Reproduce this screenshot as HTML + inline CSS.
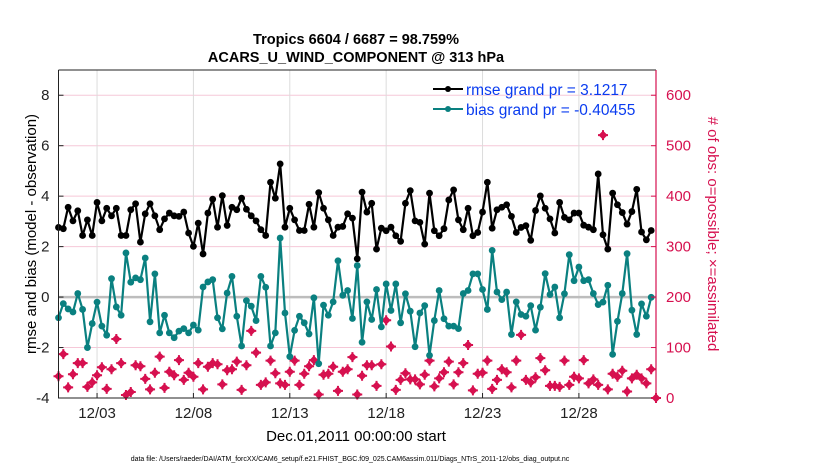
<!DOCTYPE html>
<html><head><meta charset="utf-8"><style>
body{margin:0;background:#fff;}
svg{display:block;font-family:"Liberation Sans",sans-serif;}
</style></head><body>
<svg id="chart" width="830" height="470" viewBox="0 0 830 470" xmlns="http://www.w3.org/2000/svg">
<rect x="0" y="0" width="830" height="470" fill="#fff"/>
<text x="356" y="44" text-anchor="middle" font-size="14.5" font-weight="bold">Tropics 6604 / 6687 = 98.759%</text>
<text x="356" y="62" text-anchor="middle" font-size="14.5" font-weight="bold">ACARS_U_WIND_COMPONENT @ 313 hPa</text>
<g id="grid"></g>
<g id="marks"></g>
<g id="axes"></g>
<text transform="translate(36,234) rotate(-90)" text-anchor="middle" font-size="15">rmse and bias (model - observation)</text>
<text transform="translate(708,234) rotate(90)" text-anchor="middle" font-size="15" fill="#d6104f">#  of obs: o=possible; ×=assimilated</text>
<text x="356" y="441" text-anchor="middle" font-size="15">Dec.01,2011 00:00:00 start</text>
<text x="350" y="461" text-anchor="middle" font-size="7">data file: /Users/raeder/DAI/ATM_forcXX/CAM6_setup/f.e21.FHIST_BGC.f09_025.CAM6assim.011/Diags_NTrS_2011-12/obs_diag_output.nc</text>
<g>
 <line x1="433" y1="89" x2="463" y2="89" stroke="#000" stroke-width="2"/><circle cx="448" cy="89" r="3" fill="#000"/>
 <text x="466" y="95" font-size="15.5" fill="#0a3cf0">rmse grand pr = 3.1217</text>
 <line x1="433" y1="109" x2="463" y2="109" stroke="#0a8080" stroke-width="2"/><circle cx="448" cy="109" r="3" fill="#0a8080"/>
 <text x="466" y="115" font-size="15.5" fill="#0a3cf0">bias grand pr = -0.40455</text>
</g>
</svg>
<script>
const rmse=[2.76,2.71,3.56,3.02,3.42,2.44,3.06,2.44,3.75,3.02,3.52,3.22,3.52,2.44,2.44,3.46,3.70,2.18,3.30,3.70,3.22,2.67,3.10,3.33,3.22,3.20,3.37,2.54,2.01,2.93,1.71,3.33,3.88,
2.77,4.02,2.84,3.56,3.46,3.92,3.48,3.22,3.02,2.67,2.44,4.55,3.92,5.28,2.77,3.52,3.06,2.64,2.64,3.68,2.77,4.14,3.52,3.06,2.44,2.77,2.80,3.30,3.13,1.52,4.16,3.37,3.72,
1.90,2.73,2.63,2.77,2.43,2.21,3.72,4.22,3.02,2.96,2.10,4.12,2.63,2.43,2.71,3.85,4.25,3.06,2.67,3.52,2.43,2.56,3.37,4.55,2.73,3.46,3.56,3.66,3.20,2.56,2.76,2.83,2.25,
3.43,4.01,3.52,3.10,2.54,3.75,3.16,3.06,3.33,3.33,2.85,2.77,2.67,4.88,2.47,1.90,4.12,3.66,3.35,2.89,3.39,4.27,2.58,2.27,2.64];
const bias=[-0.82,-0.26,-0.47,-0.59,0.14,-0.49,-2.0,-1.05,-0.2,-1.15,-1.51,0.73,-0.39,-0.72,1.75,0.59,0.76,0.69,1.55,-0.98,0.92,-1.42,-0.72,-1.42,-1.61,-1.35,-1.25,-1.42,-1.11,-1.31,0.4,0.6,0.69,
-0.82,-1.26,0.16,0.82,-0.76,-1.94,-0.14,-0.36,-0.93,0.82,0.39,-1.94,-1.42,2.34,-0.63,-2.36,-1.32,-0.76,-1.02,-1.46,-0.03,-2.64,-0.32,-0.72,-0.19,1.44,0.07,0.26,-0.85,1.25,-1.79,-0.19,-0.89,
0.30,-1.18,0.52,-0.53,0.52,-1.02,0.13,-0.56,-1.97,-0.63,-0.34,-2.31,-0.93,0.26,-0.86,-1.15,-1.15,-1.25,0.14,0.26,0.92,0.92,0.30,-0.49,1.85,0.20,-0.10,0.20,-1.48,-0.19,-0.69,-0.76,-0.34,
-1.31,-0.40,0.93,0.10,0.40,-0.82,0.13,1.68,0.65,1.19,0.65,0.69,0.14,-0.30,-0.20,0.47,-2.27,-0.96,0.14,1.72,-0.52,-1.48,-0.27,-0.76,-0.01];
const nobs=[43,87,21,47,69,69,22,31,45,61,18,57,117,69,6,12,65,63,38,17,50,82,20,52,45,75,36,50,42,69,17,62,69,
67,27,55,57,72,16,65,133,90,26,31,74,49,29,26,52,74,26,48,63,75,7,46,48,62,14,52,57,81,7,44,65,65,
24,67,154,102,16,36,49,37,37,27,46,74,23,39,51,72,27,51,69,105,15,48,50,74,18,36,57,51,21,74,125,36,31,
41,79,55,24,24,22,74,26,42,39,75,29,37,26,521,17,48,42,54,13,39,46,39,29,57,0];
const yTicks=[-4,-2,0,2,4,6,8];
const y2Ticks=[0,100,200,300,400,500,600];
const xTickDays=[2,7,12,17,22,27];
const xTickLabels=["12/03","12/08","12/13","12/18","12/23","12/28"];

const NS="http://www.w3.org/2000/svg";
const L=58.5,R=656,T=70,B=398;
const xDays=d=>L+(d/31)*(R-L);
const xi=i=>xDays(i/4);
const y=v=>B-(v+4)/13*(B-T);
const y2=n=>B-n/650*(B-T);
function mk(tag,attrs,parent){const e=document.createElementNS(NS,tag);for(const k in attrs)e.setAttribute(k,attrs[k]);parent.appendChild(e);return e;}
const grid=document.getElementById('grid'),marks=document.getElementById('marks'),axes=document.getElementById('axes');

y2Ticks.forEach(n=>{if(n===0)return;const g=mk('line',{x1:L,x2:R,y1:y2(n),y2:y2(n),stroke:'#f6c8d8','stroke-width':1},grid);

});
xTickDays.forEach(d=>{const g=mk('line',{x1:xDays(d),x2:xDays(d),y1:T,y2:B,stroke:'#dcdcdc','stroke-width':1},grid);

});
const z=mk('line',{x1:L,x2:R,y1:y(0),y2:y(0),stroke:'#bdbdbd','stroke-width':2.5},grid);



// obs markers
nobs.forEach((n,i)=>{const cx=xi(i),cy=y2(n);
const g=mk('path',{d:`M${cx-4.5},${cy}L${cx},${cy-4.5}L${cx+4.5},${cy}L${cx},${cy+4.5}Z`,fill:'#d6104f'},marks);


const p=mk('path',{d:`M${cx-5},${cy}H${cx+5}M${cx},${cy-5}V${cy+5}`,stroke:'#d6104f','stroke-width':2},marks);

});

function series(arr,color,name){
 const pts=arr.map((v,i)=>xi(i).toFixed(1)+','+y(v).toFixed(1)).join(' ');
 const pl=mk('polyline',{points:pts,fill:'none',stroke:color,'stroke-width':2.2,'stroke-linejoin':'round'},marks);
 
 
 arr.forEach((v,i)=>{const c=mk('circle',{cx:xi(i),cy:y(v),r:3.4,fill:color},marks);
 
 });
}
series(bias,'#0a8080','bias');
series(rmse,'#000','rmse');

// axes
const ax=mk('path',{d:`M${L},${T}H${R}M${L},${T}V${B}H${R}`,stroke:'#222','stroke-width':1,fill:'none'},axes);


const ra=mk('line',{x1:R,x2:R,y1:T,y2:B,stroke:'#d6104f','stroke-width':1.2},axes);


yTicks.forEach(v=>{mk('line',{x1:L,x2:L+5,y1:y(v),y2:y(v),stroke:'#222'},axes);
const t=mk('text',{x:L-9,y:y(v)+5,'text-anchor':'end','font-size':15,fill:'#222'},axes);t.textContent=v;

});
y2Ticks.forEach(n=>{mk('line',{x1:R-5,x2:R,y1:y2(n),y2:y2(n),stroke:'#d6104f'},axes);
const t=mk('text',{x:R+10,y:y2(n)+5,'font-size':15,fill:'#d6104f'},axes);t.textContent=n;

});
xTickDays.forEach((d,k)=>{mk('line',{x1:xDays(d),x2:xDays(d),y1:B,y2:B-5,stroke:'#222'},axes);
const t=mk('text',{x:xDays(d),y:B+20,'text-anchor':'middle','font-size':15,fill:'#222'},axes);t.textContent=xTickLabels[k];

});
</script>
</body></html>
